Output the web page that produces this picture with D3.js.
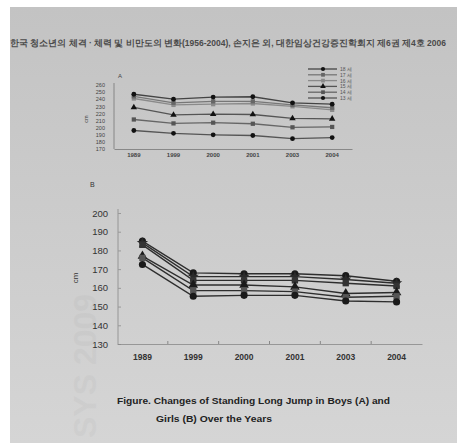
<!DOCTYPE html>
<head>
  <meta charset="utf-8">
  <title>Changes of Standing Long Jump</title>
  <script src="https://cdn.jsdelivr.net/npm/d3@7"></script>
  <style>
    body { margin: 0; background: #fff; }
    svg { display: block; }
    text { font-family: "Liberation Sans", Arial, sans-serif; }
  </style>
</head>
<body>
<script>
  // categories
  const years = ["1989", "1999", "2000", "2001", "2003", "2004"];

  // boys (A), cm, bottom line to top line
  const boysLabels = ["13 세", "14 세", "15 세", "16 세", "17 세", "18 세"];
  const boys13 = [196, 192, 190, 189, 184.5, 186];
  const boys14 = [211.5, 206, 207, 205.5, 200.5, 201];
  const boys15 = [228.5, 218, 219, 218.5, 213, 212.5];
  const boys16 = [241, 232, 233, 234, 230, 225];
  const boys17 = [244, 235, 237, 237, 232, 228];
  const boys18 = [247, 240, 243, 243.5, 235, 233];
  const boysTicks = [170, 180, 190, 200, 210, 220, 230, 240, 250, 260];

  // girls (B), cm, top line to bottom line
  const girlsA = [185, 168, 167.5, 167.5, 166.5, 163.5];
  const girlsB = [184, 166, 166, 166, 164.5, 162.5];
  const girlsC = [183, 164, 164, 164, 162.5, 161];
  const girlsD = [177, 161.5, 161.5, 160.5, 157, 157.5];
  const girlsE = [176, 158.5, 158.5, 158, 155, 155.5];
  const girlsF = [172.5, 155.5, 156, 156, 153, 152.5];
  const girlsTicks = [130, 140, 150, 160, 170, 180, 190, 200];

  const W = 457, H = 443;

  const svg = d3.select("body").append("svg")
      .attr("width", W).attr("height", H);

  // paper photo background
  const grad = svg.append("defs").append("linearGradient")
      .attr("id", "paper").attr("x1", 0).attr("y1", 0).attr("x2", 0).attr("y2", 1);
  grad.append("stop").attr("offset", "0%").attr("stop-color", "#c3c3c3");
  grad.append("stop").attr("offset", "45%").attr("stop-color", "#cbcbcb");
  grad.append("stop").attr("offset", "100%").attr("stop-color", "#d5d5d5");
  svg.append("rect").attr("width", W).attr("height", H).attr("fill", "#fff");
  svg.append("rect").attr("x", 10).attr("y", 7).attr("width", W - 10).attr("height", H - 7)
      .attr("fill", "url(#paper)");

  // bleed-through from the other side of the page
  svg.append("text")
      .attr("transform", "translate(96,438) rotate(-90)")
      .attr("font-size", 32).attr("font-weight", "bold")
      .attr("fill", "#000").attr("opacity", 0.025)
      .text("SYS 2009");

  // header line
  svg.append("text")
      .attr("x", 10).attr("y", 46)
      .attr("font-family", "'Noto Sans CJK KR', sans-serif")
      .attr("font-size", 8.5).attr("font-weight", "bold").attr("fill", "#4a4a4a")
      .attr("textLength", 436).attr("lengthAdjust", "spacingAndGlyphs")
      .text("한국 청소년의 체격 · 체력 및 비만도의 변화(1956-2004), 손지은 외, 대한임상건강증진학회지 제6권 제4호 2006");

  // ---------- chart A (boys) ----------
  const xA = d3.scaleBand().domain(years).range([114, 352]);
  const yA = d3.scaleLinear().domain([170, 260]).range([149, 85]);

  const gA = svg.append("g").attr("fill", "none");
  gA.append("line").attr("x1", 114).attr("x2", 114).attr("y1", yA(260) - 2).attr("y2", yA(170))
      .attr("stroke", "#777").attr("stroke-width", 0.8);
  gA.append("g").attr("transform", "translate(0," + yA(170) + ")")
      .call(d3.axisBottom(xA).tickSize(0).tickPadding(4))
      .call(g => g.select(".domain").attr("stroke", "#777").attr("stroke-width", 0.8))
      .call(g => g.selectAll("text").attr("font-size", 6).attr("font-weight", "bold").attr("fill", "#444"));
  gA.append("g").attr("transform", "translate(105,0)")
      .call(d3.axisLeft(yA).tickValues(boysTicks).tickSize(0).tickPadding(0))
      .call(g => g.select(".domain").remove())
      .call(g => g.selectAll("text").attr("font-size", 5.5).attr("fill", "#444"));
  svg.append("text").attr("x", 118).attr("y", 78).attr("font-size", 6)
      .attr("fill", "#444").text("A");
  svg.append("text").attr("transform", "translate(88,119) rotate(-90)")
      .attr("text-anchor", "middle").attr("font-size", 5.5).attr("fill", "#444").text("cm");

  const boysSeries = [boys13, boys14, boys15, boys16, boys17, boys18];
  const boysSym = [d3.symbolCircle, d3.symbolSquare, d3.symbolTriangle, d3.symbolSquare, d3.symbolSquare, d3.symbolCircle];
  const boysLine = ["#555", "#666", "#555", "#8a8a8a", "#777", "#444"];
  const boysMark = ["#111", "#555", "#111", "#8a8a8a", "#666", "#111"];
  const lineA = d3.line().x((d, i) => xA(years[i]) + xA.bandwidth() / 2).y(d => yA(d));

  boysSeries.forEach((s, k) => {
    gA.append("path").attr("d", lineA(s))
        .attr("stroke", boysLine[k]).attr("stroke-width", 1.3);
    gA.selectAll(null).data(s).enter().append("path")
        .attr("transform", (d, i) => "translate(" + (xA(years[i]) + xA.bandwidth() / 2) + "," + yA(d) + ")")
        .attr("d", d3.symbol(boysSym[k], 18)())
        .attr("fill", boysMark[k]);
  });

  // legend A (top entry = oldest)
  const legA = svg.append("g");
  const legOrder = [5, 4, 3, 2, 1, 0];
  legOrder.forEach((k, r) => {
    const y = 69 + r * 5.8;
    legA.append("line").attr("x1", 308).attr("x2", 337).attr("y1", y).attr("y2", y)
        .attr("stroke", boysLine[k]).attr("stroke-width", 1.3);
    legA.append("path").attr("transform", "translate(323," + y + ")")
        .attr("d", d3.symbol(boysSym[k], 14)()).attr("fill", boysMark[k]);
    legA.append("text").attr("x", 340).attr("y", y + 2).attr("font-size", 5)
        .attr("fill", "#555").text(boysLabels[k]);
  });

  // ---------- chart B (girls) ----------
  const xB = d3.scaleBand().domain(years).range([117, 422]);
  const yB = d3.scaleLinear().domain([130, 200]).range([344, 213]);

  const gB = svg.append("g").attr("fill", "none");
  gB.append("g").attr("transform", "translate(" + 118 + ",0)")
      .call(d3.axisLeft(yB).tickValues(girlsTicks).tickSize(-3).tickPadding(10))
      .call(g => g.select(".domain").attr("stroke", "#888").attr("stroke-width", 0.8)
          .attr("d", "M0," + (yB(200) - 4) + "V" + yB(130)))
      .call(g => g.selectAll(".tick line").attr("stroke", "#999"))
      .call(g => g.selectAll("text").attr("font-size", 9.5).attr("fill", "#333"));
  gB.append("g").attr("transform", "translate(0," + yB(130) + ")")
      .call(d3.axisBottom(xB).tickSize(0).tickPadding(10))
      .call(g => g.select(".domain").attr("stroke", "#888").attr("stroke-width", 0.8))
      .call(g => g.selectAll("text").attr("font-size", 8.5).attr("font-weight", "bold").attr("fill", "#333"));
  // small ticks between years
  gB.selectAll(null).data(years.slice(1)).enter().append("line")
      .attr("x1", d => xB(d)).attr("x2", d => xB(d))
      .attr("y1", yB(130)).attr("y2", yB(130) - 3)
      .attr("stroke", "#888");
  svg.append("text").attr("x", 90).attr("y", 187).attr("font-size", 7)
      .attr("fill", "#333").text("B");
  svg.append("text").attr("transform", "translate(78,278) rotate(-90)")
      .attr("text-anchor", "middle").attr("font-size", 8).attr("fill", "#333").text("cm");

  const girlsSeries = [girlsA, girlsB, girlsC, girlsD, girlsE, girlsF];
  const girlsSym = [d3.symbolCircle, d3.symbolStar, d3.symbolSquare, d3.symbolTriangle, d3.symbolSquare, d3.symbolCircle];
  const girlsMark = ["#1a1a1a", "#2a2a2a", "#333", "#1a1a1a", "#555", "#1a1a1a"];
  const lineB = d3.line().x((d, i) => xB(years[i]) + xB.bandwidth() / 2).y(d => yB(d));

  girlsSeries.forEach((s, k) => {
    gB.append("path").attr("d", lineB(s))
        .attr("stroke", "#2e2e2e").attr("stroke-width", 1.4);
  });
  girlsSeries.forEach((s, k) => {
    gB.selectAll(null).data(s).enter().append("path")
        .attr("transform", (d, i) => "translate(" + (xB(years[i]) + xB.bandwidth() / 2) + "," + yB(d) + ")")
        .attr("d", d3.symbol(girlsSym[k], 40)())
        .attr("fill", girlsMark[k]);
  });

  // caption
  svg.append("text").attr("x", 117).attr("y", 404)
      .attr("font-size", 9.4).attr("font-weight", "bold").attr("fill", "#222")
      .attr("textLength", 273).attr("lengthAdjust", "spacingAndGlyphs")
      .text("Figure. Changes of Standing Long Jump in Boys (A) and");
  svg.append("text").attr("x", 156).attr("y", 422)
      .attr("font-size", 9.4).attr("font-weight", "bold").attr("fill", "#222")
      .attr("textLength", 116).attr("lengthAdjust", "spacingAndGlyphs")
      .text("Girls (B) Over the Years");
</script>
</body>
